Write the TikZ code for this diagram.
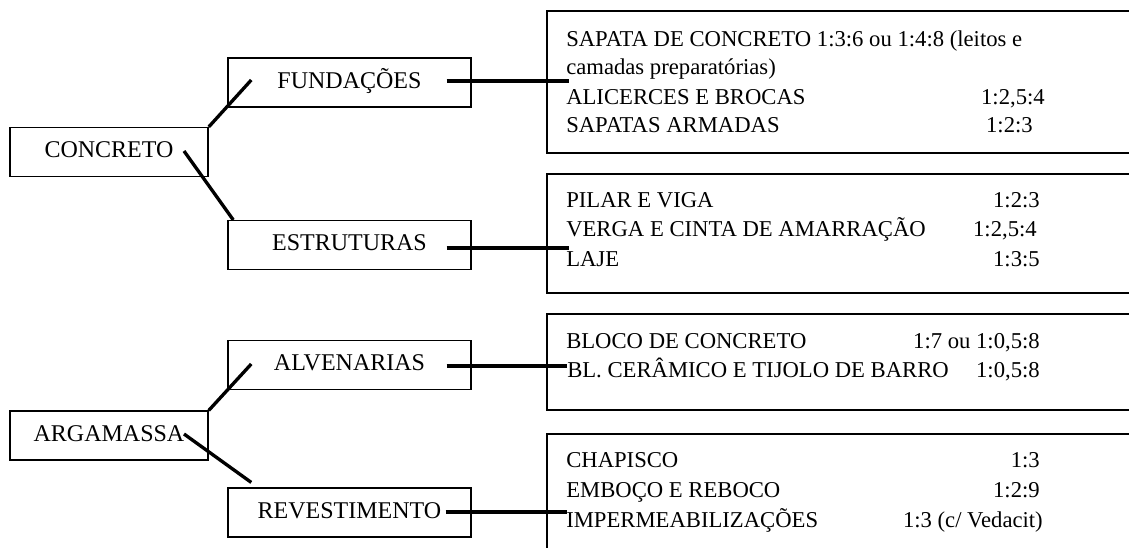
\documentclass[tikz,border=0pt]{standalone}
\usepackage{fontspec}
\setmainfont{Liberation Serif}
\usetikzlibrary{calc}
\begin{document}
\begin{tikzpicture}[x=0.75pt,y=-0.75pt,
  mainbox/.style={draw, line width=1.1pt, inner sep=0pt, minimum width=148.5pt, minimum height=36.5pt,
    text height=11.9pt, text depth=3.6pt, font=\fontsize{18pt}{21pt}\selectfont},
  subbox/.style={draw, line width=1.1pt, inner sep=0pt, minimum width=182.25pt, minimum height=36.5pt,
    text height=11.9pt, text depth=3.6pt, font=\fontsize{18pt}{21pt}\selectfont},
  listbox/.style={draw, line width=1.1pt, inner sep=0pt, minimum width=452.25pt},
  itemtext/.style={anchor=base west, inner sep=0pt, font=\fontsize{17pt}{21pt}\selectfont},
  ratiotext/.style={anchor=base east, inner sep=0pt, font=\fontsize{17pt}{21pt}\selectfont},
  conn/.style={line width=2.5pt}]
\clip (0,0) rectangle (1129,548);
\fill[white] (0,0) rectangle (1129,548);

% left boxes
\node[mainbox] (concreto) at (109,152) {CONCRETO};
\node[mainbox] (argamassa) at (109,435.5) {ARGAMASSA};
\node[subbox] (fund) at (349.5,82.5) {FUNDAÇÕES};
\node[subbox] (estr) at (349.5,245) {ESTRUTURAS};
\node[subbox] (alv) at (349.5,365) {ALVENARIAS};
\node[subbox] (reve) at (349.5,512.5) {REVESTIMENTO};

% right list boxes (running off the right edge)
\node[listbox, minimum height=106.5pt] (lb1) at (848.5,82) {};
\node[listbox, minimum height=89.25pt] (lb2) at (848.5,233.5) {};
\node[listbox, minimum height=72pt] (lb3) at (848.5,362) {};
\node[listbox, minimum height=109.5pt] (lb4) at (848.5,507) {};

% list texts
\node[itemtext] (t11) at (566,47) {SAPATA DE CONCRETO 1:3:6 ou 1:4:8 (leitos e};
\node[itemtext] (t12) at (566,75) {camadas preparatórias)};
\node[itemtext] (t13) at (566,105) {ALICERCES E BROCAS};
\node[ratiotext] (r13) at (1045,105) {1:2,5:4};
\node[itemtext] (t14) at (566,133) {SAPATAS ARMADAS};
\node[ratiotext] (r14) at (1033,133) {1:2:3};

\node[itemtext] (t21) at (566,208) {PILAR E VIGA};
\node[ratiotext] (r21) at (1040,208) {1:2:3};
\node[itemtext] (t22) at (566,237) {VERGA E CINTA DE AMARRAÇÃO};
\node[ratiotext] (r22) at (1037,237) {1:2,5:4};
\node[itemtext] (t23) at (566,267) {LAJE};
\node[ratiotext] (r23) at (1040,267) {1:3:5};

\node[itemtext] (t31) at (566,349) {BLOCO DE CONCRETO};
\node[ratiotext] (r31) at (1040,349) {1:7 ou 1:0,5:8};
\node[itemtext] (t32) at (567,378) {BL. CERÂMICO E TIJOLO DE BARRO};
\node[ratiotext] (r32) at (1040,378) {1:0,5:8};

\node[itemtext] (t41) at (566,468) {CHAPISCO};
\node[ratiotext] (r41) at (1040,468) {1:3};
\node[itemtext] (t42) at (566,498) {EMBOÇO E REBOCO};
\node[ratiotext] (r42) at (1040,498) {1:2:9};
\node[itemtext] (t43) at (566,528) {IMPERMEABILIZAÇÕES};
\node[ratiotext] (r43) at (1043,528) {1:3 (c/ Vedacit)};

% connectors
\draw[conn] (concreto.north east) -- ($(fund.west)+(24,-2.5)$);
\draw[conn] ($(concreto.center)+(75,-1)$) -- ($(estr.north west)+(6,0)$);
\draw[conn] (argamassa.north east) -- ($(alv.west)+(24,-1)$);
\draw[conn] ($(argamassa.center)+(75,-1.5)$) -- ($(reve.north west)+(24,-5)$);

\draw[conn] ($(fund.east)+(-25,-1.5)$) -- ($(fund.east -| lb1.west)+(23,-1.5)$);
\draw[conn] ($(estr.east)+(-25,3)$) -- ($(estr.east -| lb2.west)+(23,3)$);
\draw[conn] ($(alv.east)+(-25,1)$) -- ($(alv.east -| lb3.west)+(21,1)$);
\draw[conn] ($(reve.east)+(-26,-0.5)$) -- ($(reve.east -| lb4.west)+(21,-0.5)$);
\end{tikzpicture}
\end{document}
